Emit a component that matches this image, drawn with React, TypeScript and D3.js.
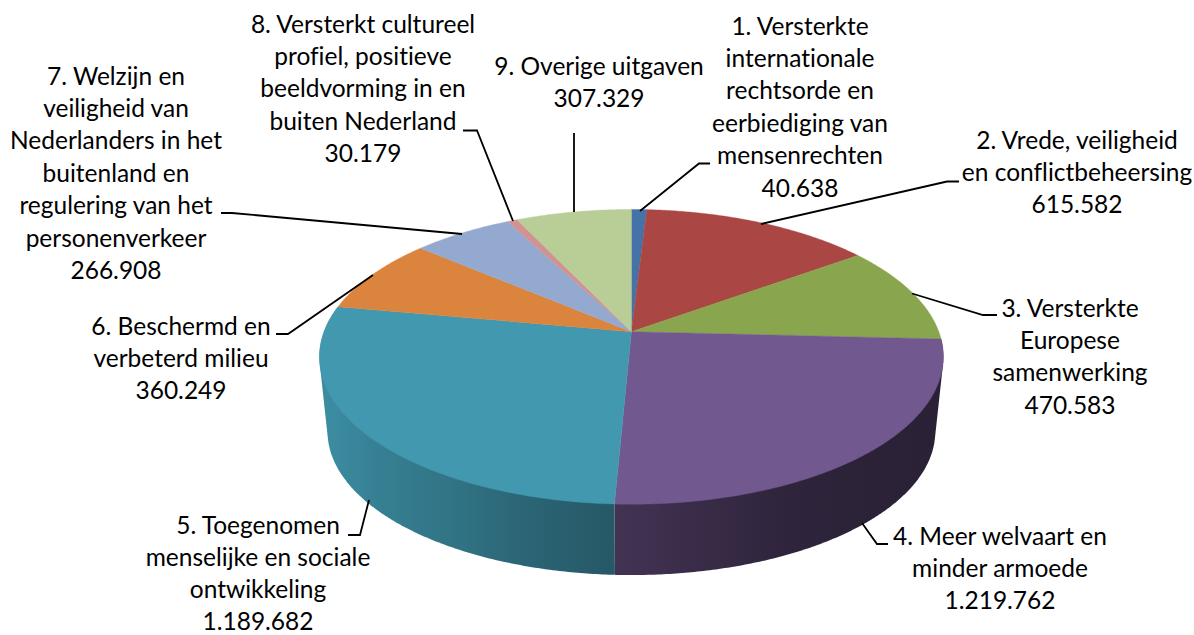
import React from "react";
import * as d3 from "d3";

const categories = [
  ["1. Versterkte", "internationale", "rechtsorde en", "eerbiediging van", "mensenrechten"],
  ["2. Vrede, veiligheid", "en conflictbeheersing"],
  ["3. Versterkte", "Europese", "samenwerking"],
  ["4. Meer welvaart en", "minder armoede"],
  ["5. Toegenomen", "menselijke en sociale", "ontwikkeling"],
  ["6. Beschermd en", "verbeterd milieu"],
  ["7. Welzijn en", "veiligheid van", "Nederlanders in het", "buitenland en", "regulering van het", "personenverkeer"],
  ["8. Versterkt cultureel", "profiel, positieve", "beeldvorming in en", "buiten Nederland"],
  ["9. Overige uitgaven"],
];
const valueLabels = ["40.638", "615.582", "470.583", "1.219.762", "1.189.682", "360.249", "266.908", "30.179", "307.329"];
const values = [40638, 615582, 470583, 1219762, 1189682, 360249, 266908, 30179, 307329];
const colors = ["#4572A7", "#AA4643", "#89A54E", "#71588F", "#4198AF", "#DB843D", "#93A9CF", "#D19392", "#B9CD96"];

// label layout: centre x, centre y of first line, line height
const labelAnchors: [number, number, number][] = [
  [800, 26, 32.4], [1077, 140, 32.4], [1070, 308, 32.4], [1000, 536, 32.4], [258, 525.8, 31.9],
  [181, 326, 32.4], [116, 76, 32.4], [363, 24, 32.4], [599, 66, 32.4],
];
// leader polylines
const leaders: [number, number][][] = [
  [[640, 211], [699, 163.5], [710, 163.5]],
  [[761, 224], [947, 181.5], [959, 181.5]],
  [[912, 293.5], [983, 315], [997, 315]],
  [[862, 523], [877, 544], [888, 544]],
  [[369, 500], [360, 535], [348, 535]],
  [[373, 275], [288, 334], [276, 334]],
  [[462, 234], [232, 213], [221, 213]],
  [[513, 221], [477, 130.5], [463, 130.5]],
  [[574, 212], [574, 133]],
];

const W = 1194, H = 635;
const cx = 631.4, cy = 331.7, R = 307.4, A = 143.1, K = 0.1707;
const bottomScale = 0.974, bottomCy = 407;
const deg = Math.PI / 180;

// The reference's 3D camera bends slice angles slightly.
const viewAngle = d3.scaleLinear()
  .domain([0, 52.49, 90.13, 187.67, 282.86, 311.68, 333.03, 335.44, 360])
  .range([0, 54.1, 92.9, 182.6, 280.4, 310.4, 332.4, 334.6, 360]);
const shadeX = [329, 370, 450, 530, 615, 700, 790, 935];
const shadeK = [0.92, 0.85, 0.76, 0.66, 0.58, 0.5, 0.41, 0.38];

function top(theta: number): [number, number] {
  const u = Math.sin(theta * deg), v = -Math.cos(theta * deg), d = 1 - K * v;
  return [cx + (R * u) / d, cy + (A * v) / d];
}
function bottom(theta: number): [number, number] {
  const u = Math.sin(theta * deg), v = -Math.cos(theta * deg), d = 1 - K * v;
  return [cx + (bottomScale * R * u) / d, bottomCy + (bottomScale * A * v) / d];
}

const arcs = d3.pie<number>().sort(null).startAngle(0).endAngle(2 * Math.PI)(values);
const line = d3.line();

export default function App() {
  const faces = arcs.map((a, i) => {
    const t0 = viewAngle(a.startAngle / deg), t1 = viewAngle(a.endAngle / deg);
    return { i, t0, t1, thetas: d3.range(t0, t1, 0.5).concat(t1) };
  });
  const sides = faces
    .filter((f) => Math.cos(((f.t0 + f.t1) / 2) * deg) < 0.1)
    .map((f) => {
      const pts = f.thetas.flatMap((t) => [top(t), bottom(t)]);
      const hull = d3.polygonHull(pts) as [number, number][];
      return { ...f, d: line(hull) + "Z" };
    });
  const font = "Lato, Carlito, sans-serif";
  const fs = 24.5;
  return (
    <svg width={W} height={H} viewBox={`0 0 ${W} ${H}`} style={{ position: "absolute", left: 0, top: 0, background: "#fff" }}>
      <defs>
        {sides.map(({ i }) => {
          const c = d3.rgb(colors[i]);
          return (
            <linearGradient key={i} id={`side${i}`} gradientUnits="userSpaceOnUse" x1={shadeX[0]} x2={shadeX[shadeX.length - 1]} y1={0} y2={0}>
              {shadeX.map((x, j) => (
                <stop
                  key={j}
                  offset={(x - shadeX[0]) / (shadeX[shadeX.length - 1] - shadeX[0])}
                  stopColor={d3.rgb(c.r * shadeK[j], c.g * shadeK[j], c.b * shadeK[j]).formatHex()}
                />
              ))}
            </linearGradient>
          );
        })}
      </defs>
      {sides.map(({ i, d }) => (
        <path key={i} d={d} fill={`url(#side${i})`} />
      ))}
      {faces.map(({ i, thetas }) => (
        <path key={i} d={line([[cx, cy], ...thetas.map(top)]) + "Z"} fill={colors[i]} stroke={colors[i]} strokeWidth={0.4} />
      ))}
      {leaders.map((p, i) => (
        <path key={i} d={line(p) as string} fill="none" stroke="#000" strokeWidth={1.8} />
      ))}
      {categories.map((lines, i) => {
        const [x, y, lh] = labelAnchors[i];
        return (
          <text key={i} fontFamily={font} fontSize={fs} fill="#000" textAnchor="middle" style={{ fontVariantLigatures: "none" }}>
            {[...lines, valueLabels[i]].map((t, j) => (
              <tspan key={j} x={x} y={y + j * lh + 8.5}>{t}</tspan>
            ))}
          </text>
        );
      })}
    </svg>
  );
}
